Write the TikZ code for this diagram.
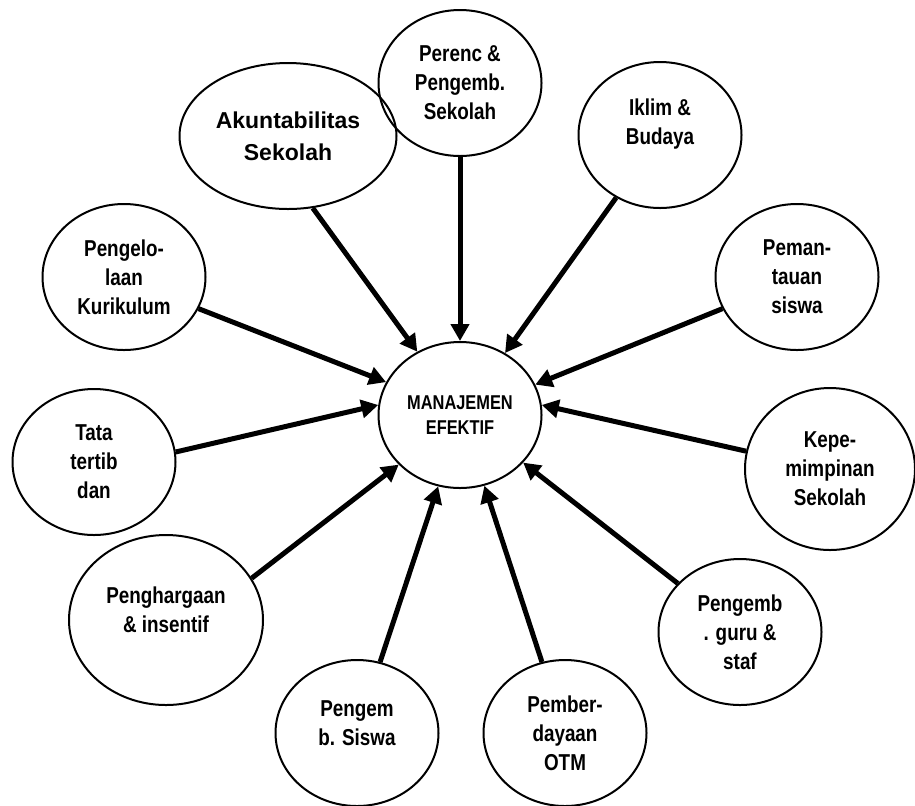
\documentclass[tikz,border=0pt]{standalone}
\usepackage{fontspec}
\setmainfont{Liberation Sans}
\newfontfamily\narrowfont{Liberation Sans}[FakeStretch=0.82]
\usetikzlibrary{shapes.geometric,arrows.meta}
\begin{document}
\begin{tikzpicture}[x=0.5pt, y=-0.5pt, line join=round, >={Triangle[length=8.5pt,width=9pt]}]
	\tikzset{every node/.style={ellipse, draw, line width=1pt, inner sep=0pt, align=center,
			font=\narrowfont\bfseries\fontsize{11.5}{14.5}\selectfont},
		bubble/.style={minimum width=81.5pt, minimum height=73pt},
		spoke/.style={->, line width=2.5pt}}
	\useasboundingbox (0,0) rectangle (915,805);
	\node[bubble, font=\narrowfont\bfseries\fontsize{10}{12.5}\selectfont] (mgmt) at (460,415) {MANAJEMEN\\EFEKTIF};
	\node[bubble] (perenc) at (460,83) {Perenc \&\\Pengemb.\\Sekolah};
	\node[bubble, minimum width=108.5pt, font=\bfseries\fontsize{11.5}{16}\selectfont] (akun) at (288,136) {Akuntabilitas\\Sekolah};
	\node[bubble, text depth=13pt] (iklim) at (660,135) {Iklim \&\\Budaya};
	\node[bubble] (kuri) at (124,277) {Pengelo-\\laan\\Kurikulum};
	\node[bubble] (pantau) at (797,277) {Peman-\\tauan\\siswa};
	\node[bubble] (tatib) at (94,462) {Tata\\tertib\\dan};
	\node[minimum width=85pt, minimum height=81pt] (pimpin) at (830,469) {Kepe-\\mimpinan\\Sekolah};
	\node[minimum width=97pt, minimum height=85pt, text depth=10pt] (harga) at (166,620) {Penghargaan\\\& insentif};
	\node[bubble] (guru) at (740,632) {Pengemb\\. guru \&\\staf};
	\node[bubble, text depth=10pt] (siswa) at (357,733) {Pengem\\b. Siswa};
	\node[bubble] (otm) at (565,733) {Pember-\\dayaan\\OTM};
	\foreach \src/\a/\b in {akun/-71/124, perenc/-90/90, iklim/-125/54, pantau/-157/22,
		kuri/-23/156, tatib/7/173, harga/26/-141, siswa/72/-107, otm/108/-71,
		guru/142/-37, pimpin/168/7}
	\draw[spoke] (\src.\a) -- (mgmt.\b);
\end{tikzpicture}
\end{document}
